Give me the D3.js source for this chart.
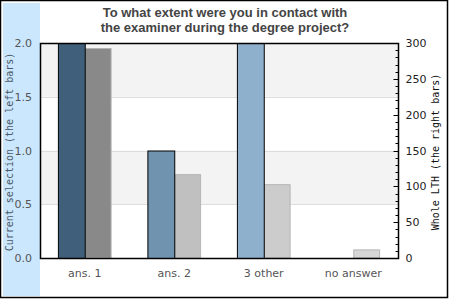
<!DOCTYPE html>
<html>
<head>
<meta charset="utf-8">
<script src="https://cdn.jsdelivr.net/npm/d3@7"></script>
<style>
body { margin:0; background:#fff; }
svg { display:block; }
</style>
</head>
<body>
<script>
var categories = ["ans. 1", "ans. 2", "3 other", "no answer"];
var selection = [2, 1, 2, 0];          // left bars, left axis
var wholeLTH = [293, 117, 103, 12];    // right bars, right axis
var selColors = ["#3f5f7a", "#7093b0", "#8fb0cc", "#a8c4dc"];
var lthColors = ["#898989", "#c0c0c0", "#cccccc", "#d6d6d6"];
var leftTicks = [0, 0.5, 1, 1.5, 2];
var rightTicks = [0, 50, 100, 150, 200, 250, 300];

var W = 450, H = 300;
// note: "top" is reserved on window, so use plot* names
var plotL = 40, plotR = 398, plotT = 43, plotB = 258;

var svg = d3.select("body").append("svg").attr("width", W).attr("height", H);

// outer frame + blue side panel
svg.append("rect").attr("x", 0.5).attr("y", 0.5).attr("width", 447).attr("height", 297)
  .attr("fill", "#fff").attr("stroke", "#000").attr("stroke-width", 1.5);
svg.append("rect").attr("x", 3).attr("y", 3).attr("width", 37).attr("height", 293).attr("fill", "#cbe7fd");

var yL = d3.scaleLinear().domain([0, 2]).range([plotB, plotT]);
var yR = d3.scaleLinear().domain([0, 300]).range([plotB, plotT]);

// alternating bands
var bands = [[1.5, 2], [0.5, 1]];
svg.selectAll(".band").data(bands).enter().append("rect")
  .attr("x", plotL).attr("width", plotR - plotL)
  .attr("y", function(d){ return yL(d[1]); })
  .attr("height", function(d){ return yL(d[0]) - yL(d[1]); })
  .attr("fill", "#f3f3f3");
svg.selectAll(".grid").data([0.5, 1, 1.5]).enter().append("line")
  .attr("x1", plotL).attr("x2", plotR)
  .attr("y1", function(d){ return Math.round(yL(d)) + 0.5; })
  .attr("y2", function(d){ return Math.round(yL(d)) + 0.5; })
  .attr("stroke", "#dddddd");

var x0 = d3.scaleBand().domain(categories).range([plotL, plotR]).paddingInner(0.4).paddingOuter(0.2);
var x1 = d3.scaleBand().domain(["sel", "lth"]).range([0, x0.bandwidth()]);

var g = svg.selectAll(".grp").data(categories).enter().append("g")
  .attr("transform", function(d){ return "translate(" + x0(d) + ",0)"; });

g.append("rect")
  .attr("x", x1("lth") + 0.5)
  .attr("width", x1.bandwidth() - 1)
  .attr("y", function(d, i){ return yR(wholeLTH[i]) + 0.5; })
  .attr("height", function(d, i){ return plotB - yR(wholeLTH[i]) - 0.5; })
  .attr("fill", function(d, i){ return lthColors[i]; })
  .attr("stroke", "#b5b5b5");

g.filter(function(d, i){ return selection[i] > 0; }).append("rect")
  .attr("x", x1("sel") + 0.5)
  .attr("width", x1.bandwidth())
  .attr("y", function(d){ var i = categories.indexOf(d); return yL(selection[i]) + 0.5; })
  .attr("height", function(d){ var i = categories.indexOf(d); return plotB - yL(selection[i]); })
  .attr("fill", function(d){ return selColors[categories.indexOf(d)]; })
  .attr("stroke", "#000");

// plot frame
svg.append("rect").attr("x", plotL + 0.5).attr("y", plotT + 0.5)
  .attr("width", plotR - plotL).attr("height", plotB - plotT)
  .attr("fill", "none").attr("stroke", "#000").attr("stroke-width", 1.5);

// left tick labels
svg.selectAll(".lt").data(leftTicks).enter().append("text")
  .attr("x", 32).attr("y", function(d){ return yL(d) + 4; })
  .attr("text-anchor", "end").attr("font-family", "DejaVu Sans").attr("font-size", 11)
  .attr("fill", "#555").text(function(d){ return d3.format(".1f")(d); });

// right axis
var ax = d3.axisRight(yR).tickValues(rightTicks).tickSize(0).tickPadding(7);
var ra = svg.append("g").attr("transform", "translate(" + (plotR + 0.5) + ",0)").call(ax);
ra.select(".domain").remove();
ra.selectAll("text").attr("font-family", "DejaVu Sans").attr("font-size", 11).attr("fill", "#222");
ra.selectAll(".minor").data(d3.range(0, 301, 10)).enter().append("line")
  .attr("x1", function(d){ return d % 50 === 0 ? -5 : -3; }).attr("x2", 0)
  .attr("y1", function(d){ return Math.round(yR(d)) + 0.5; })
  .attr("y2", function(d){ return Math.round(yR(d)) + 0.5; })
  .attr("stroke", "#000");

// category labels
svg.selectAll(".xl").data(categories).enter().append("text")
  .attr("x", function(d){ return x0(d) + x0.bandwidth() / 2; })
  .attr("y", 277).attr("text-anchor", "middle")
  .attr("font-family", "DejaVu Sans").attr("font-size", 11).attr("fill", "#555")
  .text(function(d){ return d; });

// axis titles
svg.append("text").attr("transform", "translate(13,152) rotate(-90)")
  .attr("text-anchor", "middle").attr("font-family", "DejaVu Sans Mono").attr("font-size", 10)
  .attr("fill", "#4a5866").text("Current selection (the left bars)");
svg.append("text").attr("transform", "translate(439,152) rotate(-90)")
  .attr("text-anchor", "middle").attr("font-family", "DejaVu Sans Mono").attr("font-size", 10)
  .attr("fill", "#111").text("Whole LTH (the right bars)");

// title
var title = ["To what extent were you in contact with", "the examiner during the degree project?"];
svg.selectAll(".tt").data(title).enter().append("text")
  .attr("x", 225).attr("y", function(d, i){ return 17 + i * 15; })
  .attr("text-anchor", "middle").attr("font-family", "Liberation Sans, Arial").attr("font-weight", "bold")
  .attr("font-size", 13).attr("fill", "#444").text(function(d){ return d; });
</script>
</body>
</html>
